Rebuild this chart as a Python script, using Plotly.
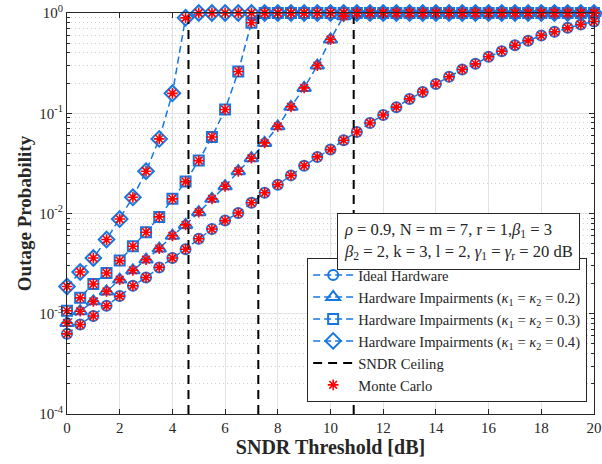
import plotly.graph_objects as go

# SNDR threshold grid (dB)
snr_db = [i * 0.5 for i in range(41)]

# Outage probability
ideal = [6.3e-4, 7.8e-4, 9.5e-4, 1.2e-3, 1.5e-3, 1.9e-3, 2.3e-3, 2.9e-3, 3.6e-3, 4.4e-3,
         5.6e-3, 7.0e-3, 8.5e-3, 0.0101, 0.0128, 0.0161, 0.0194, 0.024, 0.030, 0.0367,
         0.0434, 0.0538, 0.065, 0.080, 0.096, 0.115, 0.139, 0.163, 0.196, 0.231,
         0.273, 0.311, 0.366, 0.416, 0.477, 0.53, 0.596, 0.649, 0.711, 0.768, 0.823]

hi_02 = [8.1e-4, 1.06e-3, 1.33e-3, 1.67e-3, 2.19e-3, 2.71e-3, 3.47e-3, 4.47e-3, 6.0e-3, 7.7e-3,
         0.0103, 0.014, 0.0187, 0.0264, 0.0356, 0.0506, 0.074, 0.116, 0.179, 0.299,
         0.544, 0.93] + [1.0] * 19

hi_03 = [1.07e-3, 1.44e-3, 1.98e-3, 2.55e-3, 3.39e-3, 4.71e-3, 6.5e-3, 9.25e-3, 0.014, 0.0208,
         0.0337, 0.058, 0.109, 0.261, 0.80] + [1.0] * 26

hi_04 = [1.87e-3, 2.61e-3, 3.6e-3, 5.5e-3, 8.8e-3, 0.0145, 0.0264, 0.0555, 0.158, 0.895] + [1.0] * 31

# SNDR ceilings (dB) for kappa = 0.4, 0.3, 0.2
ceilings = [4.61, 7.26, 10.88]

y_tickvals = [1e-4, 1e-3, 1e-2, 1e-1, 1]
y_ticktext = ["10<sup>-4</sup>", "10<sup>-3</sup>", "10<sup>-2</sup>", "10<sup>-1</sup>", "10<sup>0</sup>"]
x_tickvals = list(range(0, 21, 2))

BLUE = "rgb(22,118,226)"
RED = "rgb(255,0,0)"
FONT = "Liberation Serif"
INK = "#262626"

fig = go.Figure()

series = [
    ("Ideal Hardware", ideal, "circle-open", 10),
    ("Hardware Impairments (<i>κ</i><sub>1</sub> = <i>κ</i><sub>2</sub> = 0.2)", hi_02, "triangle-up-open", 12),
    ("Hardware Impairments (<i>κ</i><sub>1</sub> = <i>κ</i><sub>2</sub> = 0.3)", hi_03, "square-open", 10),
    ("Hardware Impairments (<i>κ</i><sub>1</sub> = <i>κ</i><sub>2</sub> = 0.4)", hi_04, "diamond-open", 12),
]

for name, vals, sym, sz in series:
    fig.add_trace(go.Scatter(
        x=snr_db, y=vals, mode="lines+markers", name=name,
        line=dict(color=BLUE, width=1.5, dash="7px,4px"),
        marker=dict(symbol=sym, size=sz, color=BLUE, line=dict(color=BLUE, width=2)),
        cliponaxis=False,
    ))

for i, c in enumerate(ceilings):
    fig.add_trace(go.Scatter(
        x=[c, c], y=[1e-4, 1], mode="lines", name="SNDR Ceiling",
        line=dict(color="black", width=2, dash="9px,6px"),
        showlegend=(i == 0),
    ))

for i, (name, vals, sym, sz) in enumerate(series):
    fig.add_trace(go.Scatter(
        x=snr_db, y=vals, mode="markers", name="Monte Carlo",
        marker=dict(symbol="asterisk-open", size=9, color=RED, line=dict(color=RED, width=1.6)),
        showlegend=(i == 0), cliponaxis=False,
    ))

axis_common = dict(
    showline=True, linecolor=INK, linewidth=1, mirror="allticks",
    ticks="inside", tickcolor=INK, ticklen=5,
    showgrid=True, gridcolor="#e3e3e3", gridwidth=1, zeroline=False,
    tickfont=dict(family=FONT, size=15, color=INK),
    automargin=False, ticklabeloverflow="allow",
)

fig.update_xaxes(
    range=[0, 20], tickvals=x_tickvals,
    title=dict(text="<b>SNDR Threshold [dB]</b>", font=dict(family=FONT, size=20, color=INK), standoff=4),
    **axis_common,
)
fig.update_yaxes(
    type="log", range=[-4, 0], tickvals=y_tickvals, ticktext=y_ticktext,
    title=dict(text="<b>Outage Probability</b>", font=dict(family=FONT, size=19, color=INK), standoff=2),
    minor=dict(ticks="inside", ticklen=3, tickcolor=INK, dtick="D1",
               showgrid=True, gridcolor="#cfcfcf", griddash="1px,3px", gridwidth=1),
    **axis_common,
)

fig.add_annotation(
    xref="paper", yref="paper", x=0.513, y=0.502, xanchor="left", yanchor="top",
    align="left", showarrow=False,
    text="<i>ρ</i> = 0.9, N = m = 7, r = 1,<i>β</i><sub>1</sub> = 3<br>"
         "<i>β</i><sub>2</sub> = 2, k = 3, l = 2, <i>γ</i><sub>1</sub> = <i>γ</i><sub>r</sub> = 20 dB",
    font=dict(family=FONT, size=16.6, color=INK),
    bgcolor="white", bordercolor=INK, borderwidth=1, borderpad=6,
)

fig.update_layout(
    width=602, height=464,
    margin=dict(l=67, r=8, t=13, b=50),
    paper_bgcolor="white", plot_bgcolor="white",
    font=dict(family=FONT, size=15, color=INK),
    legend=dict(
        x=0.987, y=0.03, xanchor="right", yanchor="bottom",
        bgcolor="white", bordercolor=INK, borderwidth=1,
        font=dict(family=FONT, size=14.6, color=INK),
        itemwidth=40, tracegroupgap=0,
    ),
)

# remove the default 8px page margin so the 602x464 figure fills the window exactly
fig.write_html(
    "out.html",
    config={"displayModeBar": False},
    post_script="document.body.style.margin='0px';document.body.style.overflow='hidden';",
)
